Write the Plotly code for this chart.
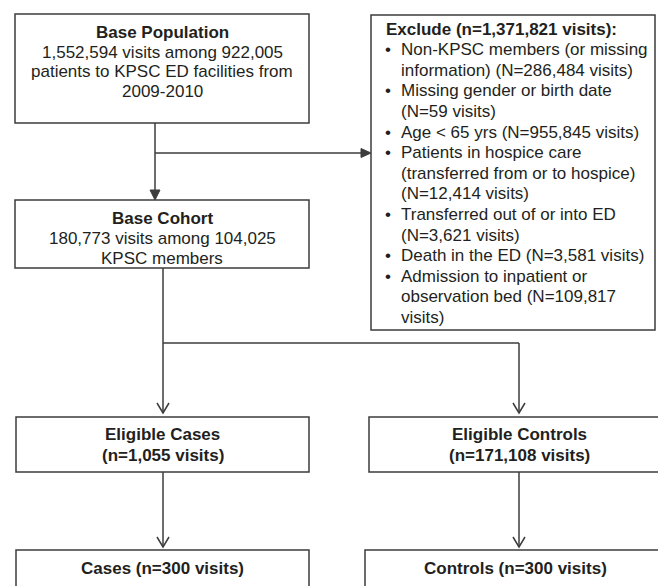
import plotly.graph_objects as go

# ---- text content (data) ----
base_pop_lines = ["<b>Base Population</b>",
                  "1,552,594 visits among 922,005",
                  "patients to KPSC ED facilities from",
                  "2009-2010"]
base_cohort_lines = ["<b>Base Cohort</b>",
                     "180,773 visits among 104,025",
                     "KPSC members"]
exclude_title = "<b>Exclude (n=1,371,821 visits):</b>"
exclude_items = [
    ["Non-KPSC members (or missing", "information) (N=286,484 visits)"],
    ["Missing gender or birth date", "(N=59 visits)"],
    ["Age &lt; 65 yrs (N=955,845 visits)"],
    ["Patients in hospice care", "(transferred from or to hospice)", "(N=12,414 visits)"],
    ["Transferred out of or into ED", "(N=3,621 visits)"],
    ["Death in the ED (N=3,581 visits)"],
    ["Admission to inpatient or", "observation bed (N=109,817", "visits)"],
]
elig_cases_lines = ["<b>Eligible Cases</b>", "<b>(n=1,055 visits)</b>"]
elig_controls_lines = ["<b>Eligible Controls</b>", "<b>(n=171,108 visits)</b>"]
cases_lines = ["<b>Cases (n=300 visits)</b>"]
controls_lines = ["<b>Controls (n=300 visits)</b>"]

# ---- layout geometry (pixels, y downward) ----
W, H = 658, 586
FONT = "Liberation Sans, Arial, Helvetica, sans-serif"
FS = 17
TXT = "#231f20"
LINE = "#3c3c3c"

boxes = {
    "base_pop": dict(x0=15, x1=309, y0=14, y1=123, lines=base_pop_lines, y=32.5, step=19.6),
    "base_cohort": dict(x0=15, x1=309, y0=200, y1=268, lines=base_cohort_lines, y=218, step=20),
    "elig_cases": dict(x0=16, x1=309, y0=417, y1=472, lines=elig_cases_lines, y=434, step=21),
    "elig_controls": dict(x0=369, x1=669, y0=417, y1=472, lines=elig_controls_lines, y=434, step=21),
    "cases": dict(x0=16, x1=309, y0=550, y1=600, lines=cases_lines, y=568, step=21),
    "controls": dict(x0=365, x1=665, y0=550, y1=600, lines=controls_lines, y=568, step=21),
}
excl_box = dict(x0=371, x1=655, y0=15, y1=330)
excl_x_title, excl_x_bullet, excl_x_text = 384, 388, 399
excl_y0, excl_step = 29, 20.6

fig = go.Figure()
shapes = []
annotations = []

def ann(x, y, text, xanchor="center", size=FS):
    annotations.append(dict(x=x, y=y, xref="x", yref="y", text=text, showarrow=False,
                            xanchor=xanchor, yanchor="middle",
                            font=dict(family=FONT, size=size, color=TXT)))

for b in boxes.values():
    shapes.append(dict(type="rect", x0=b["x0"], x1=b["x1"], y0=b["y0"], y1=b["y1"],
                       line=dict(color=LINE, width=1.5), fillcolor="rgba(0,0,0,0)"))
    cx = (b["x0"] + b["x1"]) / 2
    for i, t in enumerate(b["lines"]):
        ann(cx, b["y"] + i * b["step"], t)

shapes.append(dict(type="rect", **excl_box, line=dict(color=LINE, width=1.5),
                   fillcolor="rgba(0,0,0,0)"))
ann(excl_x_title, excl_y0, exclude_title, xanchor="left")
row = 1
for item in exclude_items:
    for j, t in enumerate(item):
        y = excl_y0 + row * excl_step
        if j == 0:
            ann(excl_x_bullet, y, "\u2022", xanchor="center")
        ann(excl_x_text, y, t, xanchor="left")
        row += 1

def seg(x0, y0, x1, y1):
    shapes.append(dict(type="line", x0=x0, y0=y0, x1=x1, y1=y1,
                       line=dict(color=LINE, width=1.5)))

def filled_down(x, y):
    shapes.append(dict(type="path", path=f"M{x-5},{y-10} L{x+5},{y-10} L{x},{y} Z",
                       fillcolor=LINE, line=dict(color=LINE, width=1)))

def filled_right(x, y):
    shapes.append(dict(type="path", path=f"M{x-10},{y-4.5} L{x-10},{y+4.5} L{x},{y} Z",
                       fillcolor=LINE, line=dict(color=LINE, width=1)))

def open_down(x, y):
    shapes.append(dict(type="path", path=f"M{x-6},{y-10} L{x},{y} L{x+6},{y-10}",
                       line=dict(color=LINE, width=1.5)))

# connectors
seg(155, 123, 155, 192); filled_down(155, 200)
seg(155, 153, 362, 153); filled_right(371, 153)
seg(163, 268, 163, 413)
seg(163, 343, 519, 343)
seg(519, 343, 519, 413)
open_down(163, 413); open_down(519, 413)
seg(163, 472, 163, 547); open_down(163, 547)
seg(519, 472, 519, 547); open_down(519, 547)

fig.update_layout(
    width=W, height=H, autosize=False,
    margin=dict(l=0, r=0, t=0, b=0),
    paper_bgcolor="white", plot_bgcolor="white",
    xaxis=dict(range=[0, W], visible=False, fixedrange=True),
    yaxis=dict(range=[H, 0], visible=False, fixedrange=True),
    shapes=shapes, annotations=annotations, showlegend=False,
)
fig.write_html("out.html", config={"displayModeBar": False},
               post_script="document.body.style.margin='0';document.body.style.overflow='hidden';")
